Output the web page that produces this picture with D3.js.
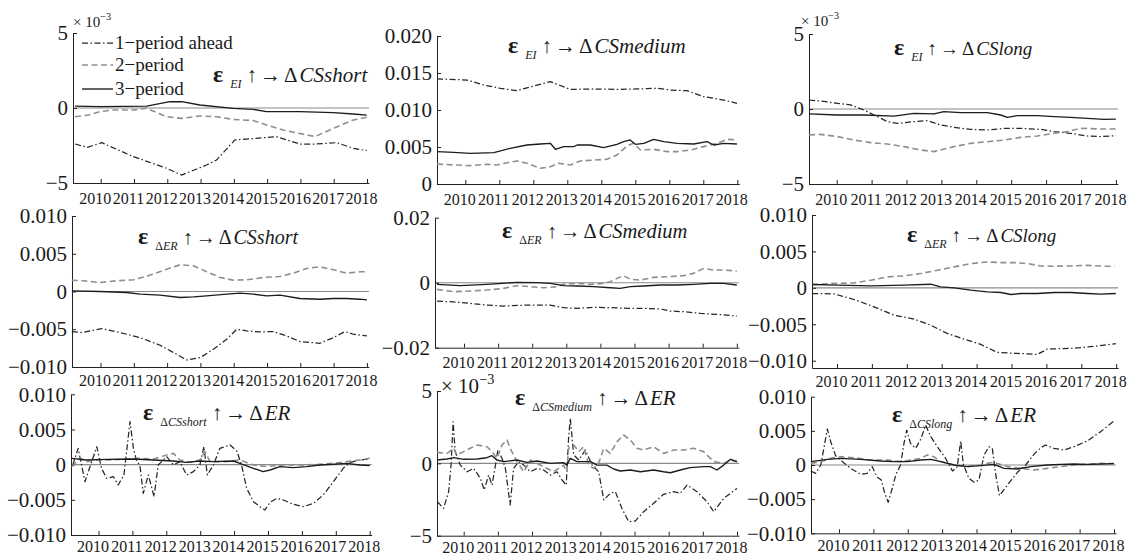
<!DOCTYPE html>
<html>
<head>
<meta charset="utf-8">
<script src="https://cdn.jsdelivr.net/npm/d3@7"></script>
</head>
<body style="margin:0;background:#fff">
<svg id="chart" width="1131" height="555"></svg>
<script>
// ---- data -------------------------------------------------------------
const years = [2010, 2011, 2012, 2013, 2014, 2015, 2016, 2017, 2018];
const seriesNames = ["1\u2212period ahead", "2\u2212period", "3\u2212period"];

const shocks = ["EI", "EI", "EI", "\u0394ER", "\u0394ER", "\u0394ER", "\u0394CSshort", "\u0394CSmedium", "\u0394CSlong"];
const responses = ["CSshort", "CSmedium", "CSlong", "CSshort", "CSmedium", "CSlong", "ER", "ER", "ER"];

const ticksE3 = [-0.005, 0, 0.005];
const labelsE3 = ["\u22125", "0", "5"];
const ticksP2 = [0, 0.005, 0.010, 0.015, 0.020];
const labelsP2 = ["0", "0.005", "0.010", "0.015", "0.020"];
const ticks10 = [-0.010, -0.005, 0, 0.005, 0.010];
const labels10 = ["\u22120.010", "\u22120.005", "0", "0.005", "0.010"];
const ticks20 = [-0.02, 0, 0.02];
const labels20 = ["\u22120.02", "0", "0.02"];

// eps_EI -> CSshort
const p1AheadT = [2009.23, 2009.60, 2010.03, 2010.98, 2011.98, 2012.43, 2013.18, 2013.48, 2014.03, 2015.28, 2015.98, 2016.49, 2017.09, 2017.59, 2017.99];
const p1AheadV = [-2.40e-3, -2.62e-3, -2.31e-3, -3.24e-3, -4.02e-3, -4.47e-3, -3.80e-3, -3.47e-3, -2.13e-3, -1.91e-3, -2.40e-3, -2.40e-3, -2.31e-3, -2.69e-3, -2.84e-3];
const p1TwoT = [2009.23, 2009.63, 2009.98, 2010.38, 2010.98, 2011.38, 2011.98, 2012.43, 2012.98, 2013.48, 2013.98, 2014.58, 2014.98, 2015.48, 2016.44, 2016.98, 2017.59, 2017.99];
const p1TwoV = [-0.58e-3, -0.47e-3, -0.24e-3, -0.13e-3, -0.13e-3, -0.02e-3, -0.58e-3, -0.69e-3, -0.53e-3, -0.58e-3, -0.76e-3, -0.84e-3, -1.13e-3, -1.47e-3, -1.91e-3, -1.36e-3, -0.80e-3, -0.62e-3];
const p1ThreeT = [2009.23, 2009.98, 2011.38, 2012.08, 2012.43, 2012.98, 2013.98, 2014.58, 2014.98, 2015.98, 2016.98, 2017.59, 2017.99];
const p1ThreeV = [0.13e-3, 0.09e-3, 0.13e-3, 0.42e-3, 0.42e-3, 0.20e-3, -0.02e-3, -0.09e-3, -0.24e-3, -0.24e-3, -0.31e-3, -0.40e-3, -0.47e-3];

// eps_EI -> CSmedium
const p2AheadT = [2009.17, 2009.56, 2010.05, 2010.54, 2011.03, 2011.52, 2012.01, 2012.50, 2013.09, 2013.78, 2014.46, 2015.05, 2015.64, 2016.03, 2016.52, 2017.01, 2017.60, 2017.99];
const p2AheadV = [0.01419, 0.01414, 0.01405, 0.01338, 0.01293, 0.01261, 0.01324, 0.01383, 0.01279, 0.01284, 0.01279, 0.01284, 0.01293, 0.01270, 0.01261, 0.01180, 0.01135, 0.01090];
const p2TwoT = [2009.17, 2009.66, 2010.15, 2010.64, 2010.93, 2011.23, 2011.52, 2011.81, 2012.21, 2012.50, 2012.74, 2013.09, 2013.38, 2013.78, 2014.17, 2014.46, 2014.76, 2014.95, 2015.15, 2015.54, 2015.93, 2016.23, 2016.62, 2017.01, 2017.41, 2017.70, 2017.99];
const p2TwoV = [0.00270, 0.00257, 0.00248, 0.00266, 0.00257, 0.00288, 0.00311, 0.00280, 0.00212, 0.00234, 0.00280, 0.00257, 0.00311, 0.00324, 0.00334, 0.00392, 0.00514, 0.00550, 0.00459, 0.00469, 0.00437, 0.00437, 0.00459, 0.00505, 0.00550, 0.00604, 0.00595];
const p2ThreeT = [2009.17, 2009.66, 2010.15, 2010.84, 2011.32, 2011.81, 2012.21, 2012.50, 2012.65, 2012.89, 2013.19, 2013.29, 2013.68, 2014.07, 2014.46, 2014.66, 2014.85, 2015.00, 2015.25, 2015.54, 2015.84, 2016.23, 2016.72, 2017.11, 2017.31, 2017.60, 2017.99];
const p2ThreeV = [0.00437, 0.00428, 0.00414, 0.00423, 0.00482, 0.00527, 0.00541, 0.00550, 0.00469, 0.00505, 0.00505, 0.00527, 0.00527, 0.00491, 0.00536, 0.00572, 0.00595, 0.00536, 0.00550, 0.00604, 0.00572, 0.00550, 0.00541, 0.00572, 0.00527, 0.00550, 0.00541];

// eps_EI -> CSlong
const p3AheadT = [2009.21, 2009.54, 2010.02, 2010.40, 2010.78, 2011.07, 2011.45, 2011.74, 2012.21, 2012.60, 2012.98, 2013.36, 2013.84, 2014.32, 2014.79, 2015.27, 2015.85, 2016.23, 2016.70, 2017.18, 2017.56, 2018.00];
const p3AheadV = [0.60e-3, 0.53e-3, 0.38e-3, 0.27e-3, -0.07e-3, -0.40e-3, -0.84e-3, -0.96e-3, -0.84e-3, -0.78e-3, -1.07e-3, -1.22e-3, -1.36e-3, -1.40e-3, -1.29e-3, -1.29e-3, -1.36e-3, -1.51e-3, -1.62e-3, -1.80e-3, -1.84e-3, -1.78e-3];
const p3TwoT = [2009.21, 2009.54, 2010.02, 2010.50, 2010.97, 2011.45, 2011.93, 2012.40, 2012.79, 2012.98, 2013.36, 2013.84, 2014.32, 2014.79, 2015.27, 2015.75, 2016.23, 2016.61, 2016.99, 2017.56, 2018.00];
const p3TwoV = [-1.73e-3, -1.69e-3, -1.84e-3, -2.07e-3, -2.24e-3, -2.33e-3, -2.51e-3, -2.73e-3, -2.84e-3, -2.73e-3, -2.51e-3, -2.29e-3, -2.18e-3, -2.07e-3, -1.89e-3, -1.80e-3, -1.62e-3, -1.51e-3, -1.29e-3, -1.33e-3, -1.33e-3];
const p3ThreeT = [2009.21, 2010.02, 2010.78, 2011.64, 2012.21, 2012.79, 2013.07, 2013.55, 2014.32, 2014.70, 2014.89, 2015.18, 2015.75, 2016.23, 2016.70, 2017.18, 2017.66, 2018.00];
const p3ThreeV = [-0.33e-3, -0.40e-3, -0.40e-3, -0.47e-3, -0.29e-3, -0.33e-3, -0.18e-3, -0.24e-3, -0.24e-3, -0.40e-3, -0.56e-3, -0.44e-3, -0.44e-3, -0.51e-3, -0.56e-3, -0.62e-3, -0.69e-3, -0.67e-3];

// eps_dER -> CSshort
const p4AheadT = [2009.14, 2009.44, 2010.04, 2010.59, 2011.19, 2011.79, 2012.29, 2012.59, 2012.99, 2013.39, 2013.79, 2014.09, 2014.39, 2014.79, 2015.19, 2015.59, 2015.99, 2016.59, 2016.99, 2017.34, 2017.59, 2018.00];
const p4AheadV = [-0.00531, -0.00544, -0.00491, -0.00544, -0.00611, -0.00712, -0.00832, -0.00907, -0.00876, -0.00765, -0.00633, -0.00500, -0.00522, -0.00535, -0.00531, -0.00588, -0.00664, -0.00686, -0.00611, -0.00531, -0.00566, -0.00588];
const p4TwoT = [2009.14, 2009.48, 2009.98, 2010.49, 2010.99, 2011.49, 2011.99, 2012.39, 2012.79, 2013.19, 2013.59, 2013.99, 2014.39, 2014.89, 2015.39, 2015.79, 2016.19, 2016.59, 2016.99, 2017.39, 2017.79, 2018.00];
const p4TwoV = [0.00150, 0.00142, 0.00119, 0.00142, 0.00155, 0.00217, 0.00296, 0.00354, 0.00341, 0.00261, 0.00186, 0.00150, 0.00155, 0.00186, 0.00199, 0.00243, 0.00305, 0.00327, 0.00288, 0.00243, 0.00261, 0.00261];
const p4ThreeT = [2009.14, 2009.98, 2010.79, 2011.19, 2011.79, 2012.39, 2012.79, 2013.19, 2013.79, 2014.19, 2014.59, 2014.99, 2015.39, 2015.99, 2016.59, 2016.99, 2017.39, 2017.79, 2018.00];
const p4ThreeV = [0.00009, 0, -0.00013, -0.00035, -0.00049, -0.00080, -0.00071, -0.00058, -0.00035, -0.00022, -0.00035, -0.00058, -0.00049, -0.00093, -0.00102, -0.00093, -0.00093, -0.00102, -0.00111];

// eps_dER -> CSmedium
const p5AheadT = [2009.21, 2009.89, 2010.67, 2011.16, 2011.85, 2012.53, 2012.92, 2013.31, 2013.80, 2014.29, 2014.88, 2015.27, 2015.76, 2016.05, 2016.44, 2016.93, 2017.42, 2018.00];
const p5AheadV = [-0.00564, -0.00605, -0.00687, -0.00718, -0.00687, -0.00687, -0.00769, -0.00790, -0.00759, -0.00769, -0.00790, -0.00790, -0.00810, -0.00872, -0.00892, -0.00944, -0.00974, -0.01026];
const p5TwoT = [2009.21, 2009.70, 2010.19, 2010.67, 2011.16, 2011.55, 2011.95, 2012.34, 2012.73, 2012.92, 2013.31, 2013.70, 2014.09, 2014.29, 2014.49, 2014.68, 2014.88, 2015.17, 2015.56, 2015.95, 2016.44, 2016.73, 2017.03, 2017.32, 2017.61, 2018.00];
const p5TwoV = [-0.00205, -0.00277, -0.00256, -0.00226, -0.00174, -0.00092, -0.00123, -0.00154, -0.00123, -0.00051, -0.00021, -0.00051, -0.00021, 0.00031, 0.00133, 0.00215, 0.00103, 0.00082, 0.00164, 0.00185, 0.00215, 0.00287, 0.00441, 0.00390, 0.00390, 0.00359];
const p5ThreeT = [2009.21, 2009.89, 2010.67, 2011.55, 2012.14, 2012.53, 2012.92, 2013.31, 2013.80, 2014.29, 2014.58, 2014.88, 2015.27, 2015.76, 2016.25, 2016.73, 2017.22, 2017.61, 2018.00];
const p5ThreeV = [-0.00051, -0.00092, -0.00051, 0.00010, 0, -0.00021, -0.00092, -0.00103, -0.00123, -0.00154, -0.00174, -0.00123, -0.00103, -0.00072, -0.00072, -0.00051, -0.00021, -0.00021, -0.00072];

// eps_dER -> CSlong
const p6AheadT = [2009.29, 2009.91, 2010.49, 2011.06, 2011.63, 2012.21, 2012.68, 2013.16, 2013.64, 2014.12, 2014.59, 2015.17, 2015.74, 2016.03, 2016.70, 2017.36, 2017.99];
const p6AheadV = [-0.00078, -0.00082, -0.00160, -0.00260, -0.00374, -0.00429, -0.00511, -0.00626, -0.00703, -0.00776, -0.00886, -0.00900, -0.00913, -0.00840, -0.00831, -0.00804, -0.00767];
const p6TwoT = [2009.29, 2009.82, 2010.49, 2010.97, 2011.44, 2011.92, 2012.40, 2012.88, 2013.36, 2013.83, 2014.31, 2014.70, 2015.08, 2015.46, 2015.84, 2016.23, 2016.70, 2017.18, 2017.66, 2017.95];
const p6TwoV = [0.00046, 0.00059, 0.00068, 0.00105, 0.00151, 0.00164, 0.00196, 0.00242, 0.00288, 0.00333, 0.00356, 0.00347, 0.00347, 0.00333, 0.00301, 0.00297, 0.00301, 0.00310, 0.00297, 0.00297];
const p6ThreeT = [2009.29, 2010.01, 2010.97, 2011.92, 2012.68, 2012.97, 2013.36, 2013.83, 2014.31, 2014.70, 2014.98, 2015.27, 2015.74, 2016.23, 2016.70, 2017.18, 2017.56, 2017.99];
const p6ThreeV = [0.00046, 0.00037, 0.00027, 0.00037, 0.00050, 0.00014, 0, -0.00032, -0.00055, -0.00064, -0.00091, -0.00078, -0.00078, -0.00064, -0.00064, -0.00078, -0.00087, -0.00078];

// eps_dCSshort -> ER
const p7AheadT = [2009.24, 2009.40, 2009.60, 2009.95, 2010.09, 2010.24, 2010.44, 2010.58, 2010.75, 2010.93, 2011.03, 2011.13, 2011.22, 2011.32, 2011.47, 2011.64, 2011.76, 2012.01, 2012.21, 2012.40, 2012.60, 2012.80, 2012.99, 2013.11, 2013.21, 2013.39, 2013.58, 2013.88, 2014.08, 2014.22, 2014.37, 2014.57, 2014.76, 2014.91, 2015.06, 2015.26, 2015.45, 2015.75, 2016.04, 2016.34, 2016.63, 2016.93, 2017.22, 2017.42, 2017.71, 2018.00];
const p7AheadV = [-0.00005, 0.00232, -0.00242, 0.00256, -0.00052, -0.00194, -0.00171, -0.00289, -0.00147, 0.00611, 0.00232, 0.00043, -0.00005, -0.00408, -0.00147, -0.00455, -0.00005, 0.00114, -0.00005, 0.00043, -0.00147, -0.00100, -0.00005, 0.00256, -0.00147, -0.00005, 0.00232, 0.00280, 0.00194, -0.00005, -0.00336, -0.00526, -0.00597, -0.00645, -0.00536, -0.00479, -0.00502, -0.00564, -0.00597, -0.00550, -0.00431, -0.00242, -0.00052, 0.00033, 0.00066, 0.00081];
const p7TwoT = [2009.21, 2009.45, 2009.65, 2009.95, 2010.34, 2010.83, 2011.22, 2011.62, 2012.01, 2012.21, 2012.40, 2012.70, 2012.99, 2013.14, 2013.29, 2013.78, 2014.17, 2014.57, 2014.96, 2015.45, 2015.94, 2016.53, 2016.93, 2017.32, 2017.71, 2018.00];
const p7TwoV = [-0.00028, 0.00090, 0.00043, 0.00066, 0.00066, 0.00081, 0.00090, 0.00081, 0.00137, 0.00161, 0.00066, 0.00033, 0.00066, 0.00185, 0.00043, 0.00043, 0.00066, -0.00005, -0.00028, -0.00005, -0.00005, 0.00005, 0.00019, 0.00043, 0.00066, 0.00090];
const p7ThreeT = [2009.21, 2009.65, 2010.24, 2011.03, 2011.62, 2012.21, 2012.60, 2012.99, 2013.39, 2013.98, 2014.17, 2014.57, 2014.86, 2015.06, 2015.35, 2015.75, 2016.14, 2016.53, 2016.93, 2017.32, 2017.71, 2018.00];
const p7ThreeV = [0.00090, 0.00066, 0.00076, 0.00081, 0.00066, 0.00052, 0.00033, 0.00052, 0.00043, 0.00052, 0.00019, -0.00052, -0.00100, -0.00076, -0.00028, -0.00043, -0.00028, -0.00005, 0.00005, 0.00019, -0.00005, -0.00014];

// eps_dCSmedium -> ER
const p8AheadT = [2009.23, 2009.41, 2009.56, 2009.63, 2009.69, 2009.75, 2009.90, 2010.10, 2010.29, 2010.49, 2010.60, 2010.73, 2010.83, 2010.93, 2011.00, 2011.12, 2011.22, 2011.36, 2011.46, 2011.61, 2011.76, 2011.95, 2012.15, 2012.34, 2012.54, 2012.73, 2012.88, 2013.00, 2013.07, 2013.12, 2013.22, 2013.37, 2013.56, 2013.76, 2013.95, 2014.10, 2014.29, 2014.44, 2014.63, 2014.83, 2015.02, 2015.27, 2015.56, 2015.85, 2016.15, 2016.34, 2016.54, 2016.83, 2017.12, 2017.32, 2017.61, 2018.00];
const p8AheadV = [-2.65e-3, -3.11e-3, -1.96e-3, -0.12e-3, 2.88e-3, 0.81e-3, -0.12e-3, -0.58e-3, -0.35e-3, -1.04e-3, -1.84e-3, -0.81e-3, -1.50e-3, -0.12e-3, 0.92e-3, 0.35e-3, -0.35e-3, -2.88e-3, -0.35e-3, 0.12e-3, -0.12e-3, -0.58e-3, -0.35e-3, -0.46e-3, -0.81e-3, -0.58e-3, -1.15e-3, -1.50e-3, 1.73e-3, 3.11e-3, 0.58e-3, 0.23e-3, 0.92e-3, -0.12e-3, -0.58e-3, -2.53e-3, -2.07e-3, -1.96e-3, -3.11e-3, -4.03e-3, -3.99e-3, -3.34e-3, -2.76e-3, -2.14e-3, -1.96e-3, -2.07e-3, -1.50e-3, -1.96e-3, -2.65e-3, -3.34e-3, -2.42e-3, -1.73e-3];
const p8TwoT = [2009.22, 2009.51, 2009.71, 2009.80, 2010.00, 2010.19, 2010.39, 2010.68, 2010.83, 2010.97, 2011.12, 2011.27, 2011.36, 2011.56, 2011.76, 2011.95, 2012.24, 2012.44, 2012.63, 2012.92, 2013.02, 2013.07, 2013.22, 2013.37, 2013.51, 2013.66, 2013.80, 2013.95, 2014.10, 2014.29, 2014.49, 2014.68, 2014.88, 2015.07, 2015.27, 2015.56, 2015.85, 2016.15, 2016.44, 2016.73, 2017.02, 2017.32, 2017.61, 2017.81, 2018.00];
const p8TwoV = [0.76e-3, 0.69e-3, 1.04e-3, 0.58e-3, 0.81e-3, 1.04e-3, 1.27e-3, 1.15e-3, 0.81e-3, 0.35e-3, 1.27e-3, 1.61e-3, 1.04e-3, 0.12e-3, -0.58e-3, 0.23e-3, -0.12e-3, -0.35e-3, -0.58e-3, -0.12e-3, -0.58e-3, 1.04e-3, 1.27e-3, 0.81e-3, 1.15e-3, -0.12e-3, -0.35e-3, 0, 1.04e-3, 0.69e-3, 1.50e-3, 1.96e-3, 1.61e-3, 1.04e-3, 0.92e-3, 1.15e-3, 0.69e-3, 0.92e-3, 0.92e-3, 1.04e-3, 0.81e-3, 0.12e-3, 0, 0.23e-3, 0.12e-3];
const p8ThreeT = [2009.22, 2009.51, 2009.71, 2010.00, 2010.39, 2010.68, 2010.83, 2010.97, 2011.17, 2011.56, 2011.85, 2012.15, 2012.54, 2012.92, 2013.02, 2013.12, 2013.32, 2013.71, 2013.90, 2014.19, 2014.39, 2014.58, 2014.88, 2015.17, 2015.56, 2015.85, 2016.05, 2016.34, 2016.63, 2017.02, 2017.22, 2017.41, 2017.61, 2017.81, 2018.00];
const p8ThreeV = [0.23e-3, 0.30e-3, 0.39e-3, 0.28e-3, 0.30e-3, 0.39e-3, 0.53e-3, 0.23e-3, 0.12e-3, 0.23e-3, 0.07e-3, 0.16e-3, 0, 0.05e-3, -0.12e-3, 0.35e-3, 0.12e-3, 0.12e-3, -0.12e-3, -0.12e-3, -0.39e-3, -0.53e-3, -0.46e-3, -0.58e-3, -0.46e-3, -0.58e-3, -0.65e-3, -0.46e-3, -0.30e-3, -0.23e-3, -0.23e-3, -0.46e-3, -0.12e-3, 0.28e-3, 0.12e-3];

// eps_dCSlong -> ER
const p9AheadT = [2009.18, 2009.32, 2009.47, 2009.56, 2009.66, 2009.76, 2009.90, 2010.10, 2010.34, 2010.63, 2010.82, 2010.97, 2011.10, 2011.23, 2011.33, 2011.43, 2011.55, 2011.65, 2011.79, 2011.89, 2011.97, 2012.08, 2012.23, 2012.38, 2012.52, 2012.67, 2012.86, 2013.10, 2013.30, 2013.44, 2013.54, 2013.62, 2013.78, 2013.93, 2014.07, 2014.22, 2014.36, 2014.46, 2014.56, 2014.67, 2014.90, 2015.19, 2015.43, 2015.67, 2015.87, 2016.01, 2016.25, 2016.55, 2016.84, 2017.22, 2017.61, 2018.00];
const p9AheadV = [-0.00088, -0.00122, 0, 0.00244, 0.00527, 0.00341, 0.00137, 0.00049, -0.00049, -0.00137, -0.00122, -0.00024, -0.00171, -0.00220, -0.00415, -0.00546, -0.00341, -0.00146, 0, 0.00317, 0.00512, 0.00317, 0.00244, 0.00380, 0.00585, 0.00415, 0.00268, 0.00098, -0.00088, -0.00024, 0.00351, 0, -0.00195, -0.00254, -0.00220, 0.00146, 0.00268, 0.00244, -0.00146, -0.00449, -0.00293, -0.00107, 0, 0.00156, 0.00254, 0.00293, 0.00244, 0.00220, 0.00268, 0.00351, 0.00488, 0.00644];
const p9TwoT = [2009.18, 2009.47, 2009.76, 2010.05, 2010.44, 2010.92, 2011.41, 2011.79, 2012.08, 2012.38, 2012.57, 2012.76, 2012.96, 2013.35, 2013.73, 2014.12, 2014.31, 2014.51, 2014.90, 2015.28, 2015.67, 2016.06, 2016.45, 2016.84, 2017.22, 2017.61, 2018.00];
const p9TwoV = [0.00024, 0.00049, 0.00098, 0.00122, 0.00107, 0.00073, 0.00073, 0.00049, 0.00073, 0.00098, 0.00146, 0.00122, 0.00049, 0, -0.00024, 0, 0.00024, 0.00039, -0.00024, -0.00049, -0.00073, -0.00049, -0.00024, 0, 0.00010, 0.00024, 0.00020];
const p9ThreeT = [2009.18, 2009.66, 2010.05, 2010.63, 2011.21, 2011.60, 2011.99, 2012.38, 2012.67, 2012.96, 2013.35, 2013.73, 2014.12, 2014.51, 2014.80, 2015.19, 2015.58, 2016.06, 2016.45, 2016.84, 2017.22, 2017.61, 2018.00];
const p9ThreeV = [0.00049, 0.00083, 0.00098, 0.00083, 0.00059, 0.00049, 0.00049, 0.00073, 0.00083, 0.00049, 0, -0.00024, -0.00010, 0.00010, -0.00049, -0.00059, -0.00024, 0, 0.00010, 0.00015, 0.00010, 0.00015, 0.00020];

// ---- layout (pixels) ---------------------------------------------------
const layout = [
  { x0: 73,  t0: 100.7, t8: 367,    top: 33,    bottom: 183,   lab: 21, title: [213, 82, 21],  expo: [73, 27, 15] },
  { x0: 437, t0: 465.3, t8: 737.3,  top: 36,    bottom: 184,   lab: 21, title: [508, 53, 21] },
  { x0: 809, t0: 836.7, t8: 1115.9, top: 34,    bottom: 184,   lab: 21, title: [894, 55, 19],  expo: [801, 26, 15] },
  { x0: 72,  t0: 100.5, t8: 366.9,  top: 216,   bottom: 367,   lab: 19, title: [138, 244, 20] },
  { x0: 435, t0: 464,   t8: 736.8,  top: 217.7, bottom: 347.7, lab: 20, title: [502, 238, 20.5] },
  { x0: 812, t0: 837,   t8: 1116.2, top: 215,   bottom: 368,   lab: 19, title: [907, 242, 19] },
  { x0: 71,  t0: 98.5,  t8: 369.7,  top: 394.3, bottom: 535,   lab: 17, title: [143, 420, 21] },
  { x0: 437, t0: 463.7, t8: 737,    top: 391,   bottom: 535.7, lab: 17, title: [515, 405, 21], expo: [441, 393, 21] },
  { x0: 811, t0: 839,   t8: 1114,   top: 396.7, bottom: 533.3, lab: 18, title: [892, 422, 21] }
];

const panels = [
  { yDomain: [-0.005, 0.005], ticks: ticksE3, labels: labelsE3, series: [[p1AheadT, p1AheadV], [p1TwoT, p1TwoV], [p1ThreeT, p1ThreeV]] },
  { yDomain: [0, 0.02],       ticks: ticksP2, labels: labelsP2, series: [[p2AheadT, p2AheadV], [p2TwoT, p2TwoV], [p2ThreeT, p2ThreeV]] },
  { yDomain: [-0.005, 0.005], ticks: ticksE3, labels: labelsE3, series: [[p3AheadT, p3AheadV], [p3TwoT, p3TwoV], [p3ThreeT, p3ThreeV]] },
  { yDomain: [-0.01, 0.01],   ticks: ticks10, labels: labels10, series: [[p4AheadT, p4AheadV], [p4TwoT, p4TwoV], [p4ThreeT, p4ThreeV]] },
  { yDomain: [-0.02, 0.02],   ticks: ticks20, labels: labels20, series: [[p5AheadT, p5AheadV], [p5TwoT, p5TwoV], [p5ThreeT, p5ThreeV]] },
  { yDomain: [-0.011, 0.010], ticks: ticks10, labels: labels10, series: [[p6AheadT, p6AheadV], [p6TwoT, p6TwoV], [p6ThreeT, p6ThreeV]] },
  { yDomain: [-0.01, 0.01],   ticks: ticks10, labels: labels10, series: [[p7AheadT, p7AheadV], [p7TwoT, p7TwoV], [p7ThreeT, p7ThreeV]] },
  { yDomain: [-0.005, 0.005], ticks: ticksE3, labels: labelsE3, series: [[p8AheadT, p8AheadV], [p8TwoT, p8TwoV], [p8ThreeT, p8ThreeV]] },
  { yDomain: [-0.01, 0.01],   ticks: ticks10, labels: labels10, series: [[p9AheadT, p9AheadV], [p9TwoT, p9TwoV], [p9ThreeT, p9ThreeV]] }
];

const styles = [
  { stroke: "#262626", width: 1.25, dash: "6,2.5,1.5,2.5" },
  { stroke: "#8e8e8e", width: 1.6, dash: "6,3.5" },
  { stroke: "#1c1c1c", width: 1.35, dash: null }
];

const serif = "'Liberation Serif', 'Times New Roman', serif";

// ---- drawing ----------------------------------------------------------
const svg = d3.select("#chart")
  .style("font-family", serif)
  .style("fill", "#1a1a1a");

panels.forEach((p, i) => {
  const L = layout[i];
  const x = d3.scaleLinear().domain([2010, 2018]).range([L.t0, L.t8]);
  const x1 = L.t8 + 2;
  const xa = x.copy().domain([x.invert(L.x0), x.invert(x1)]).range([L.x0, x1]);
  const y = d3.scaleLinear().domain(p.yDomain).range([L.bottom, L.top]);
  const g = svg.append("g");

  // zero line
  if (p.yDomain[0] < 0) {
    g.append("line")
      .attr("x1", L.x0).attr("x2", x1)
      .attr("y1", y(0)).attr("y2", y(0))
      .attr("stroke", "#8a8a8a").attr("stroke-width", 1.1);
  }

  // x axis
  const gx = g.append("g")
    .attr("transform", `translate(0,${L.bottom})`)
    .attr("color", "#222")
    .call(d3.axisBottom(xa).tickValues(years).tickFormat(d3.format("d"))
      .tickSizeInner(-4).tickSizeOuter(0));
  gx.attr("font-family", null).attr("font-size", null);
  gx.selectAll("text")
    .attr("x", -6).attr("y", L.lab).attr("dy", null)
    .style("font-family", serif).style("font-size", "16px").attr("fill", "#1a1a1a");

  // y axis
  const gy = g.append("g")
    .attr("transform", `translate(${L.x0},0)`)
    .attr("color", "#222")
    .call(d3.axisLeft(y).tickValues(p.ticks).tickFormat((d, k) => p.labels[k])
      .tickSizeInner(-4).tickSizeOuter(0).tickPadding(5));
  gy.attr("font-family", null).attr("font-size", null);
  gy.selectAll("text")
    .style("font-family", serif).style("font-size", "21px").attr("fill", "#1a1a1a");

  // lines
  const line = d3.line().x(d => x(d[0])).y(d => y(d[1]));
  p.series.forEach((s, k) => {
    const st = styles[k];
    g.append("path")
      .datum(d3.zip(s[0], s[1]))
      .attr("d", line)
      .attr("fill", "none")
      .attr("stroke", st.stroke)
      .attr("stroke-width", st.width)
      .attr("stroke-dasharray", st.dash)
      .attr("stroke-linejoin", "round");
  });

  // exponent
  if (L.expo) {
    const e = svg.append("text").attr("x", L.expo[0]).attr("y", L.expo[1])
      .style("font-family", serif).style("font-size", L.expo[2] + "px");
    e.append("tspan").text("\u00d7 10");
    e.append("tspan").attr("dy", -L.expo[2] * 0.45).style("font-size", (L.expo[2] * 0.68) + "px").text("\u22123");
  }

  // title
  const t = svg.append("text").attr("x", L.title[0]).attr("y", L.title[1])
    .style("font-family", serif).style("font-size", L.title[2] + "px");
  t.append("tspan").style("font-size", "24px").attr("font-weight", "bold").text("\u03b5");
  const sub = shocks[i];
  if (sub.startsWith("\u0394")) {
    t.append("tspan").attr("dx", 7).attr("dy", 6).style("font-size", "12px").text("\u0394");
    t.append("tspan").style("font-size", "12px").attr("font-style", "italic").text(sub.slice(1));
  } else {
    t.append("tspan").attr("dx", 7).attr("dy", 6).style("font-size", "12px").attr("font-style", "italic").text(sub);
  }
  t.append("tspan").attr("dx", 5).attr("dy", -6).text("\u2191");
  t.append("tspan").attr("dx", 3).text("\u2192");
  t.append("tspan").attr("dx", 3).text("\u0394");
  t.append("tspan").attr("dx", 2).attr("font-style", "italic").text(responses[i]);
});

// legend (first panel)
const legY = [43, 65, 89];
seriesNames.forEach((name, k) => {
  const st = styles[k];
  svg.append("line")
    .attr("x1", 82).attr("x2", 113).attr("y1", legY[k]).attr("y2", legY[k])
    .attr("stroke", st.stroke).attr("stroke-width", st.width)
    .attr("stroke-dasharray", st.dash);
  svg.append("text").attr("x", 115).attr("y", legY[k] + 6)
    .style("font-family", serif).style("font-size", "19px").text(name);
});
</script>
</body>
</html>
